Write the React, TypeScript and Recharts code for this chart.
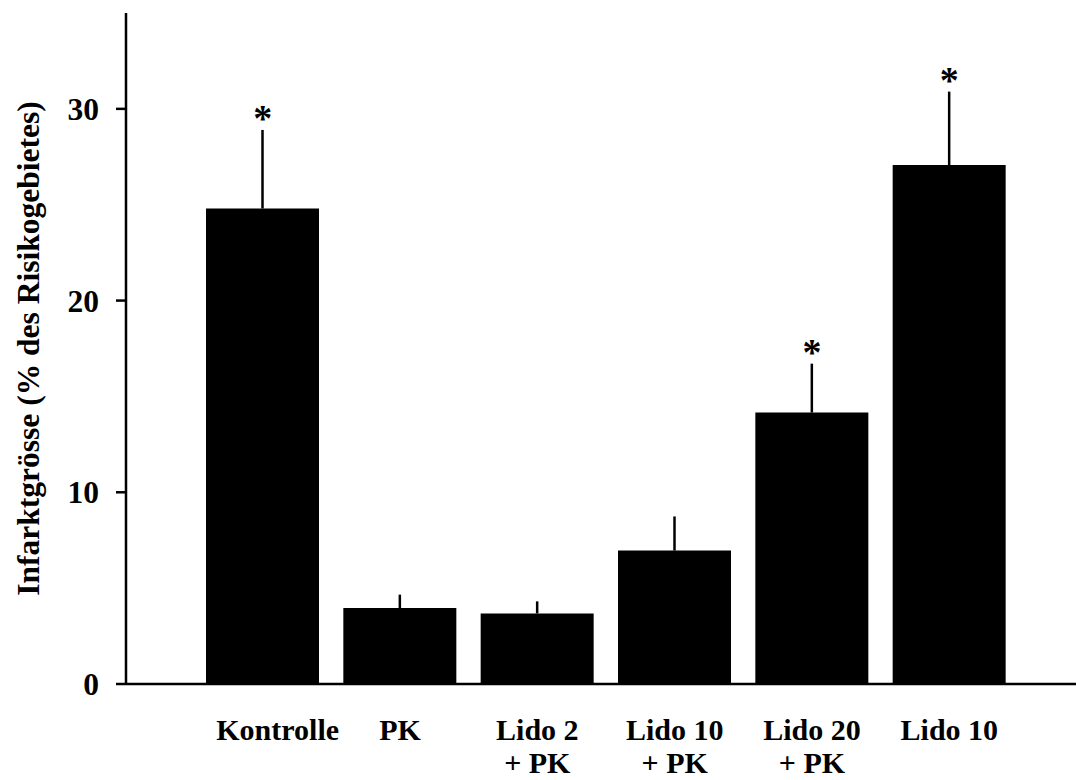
import React from "react";
import { ComposedChart, Bar, Line, XAxis, YAxis, ErrorBar, LabelList } from "recharts";

const labelLine1 = ["Kontrolle", "PK", "Lido 2", "Lido 10", "Lido 20", "Lido 10"];
const labelLine2 = ["", "", "+ PK", "+ PK", "+ PK", ""];
const values = [24.8, 3.96, 3.68, 6.96, 14.16, 27.07];
const errors = [4.1, 0.7, 0.63, 1.78, 2.55, 3.83];
const significant = [true, false, false, false, true, true];
const yTicks = [0, 10, 20, 30];

const data = values.map((v, i) => ({
  idx: i,
  value: v,
  err: [0, errors[i]],
  star: significant[i] ? v + errors[i] : null,
}));

const FONT = '"Liberation Serif", "Times New Roman", Times, serif';
const FS = 31.5;
const XFS = 30;

const XTick = (props: any) => {
  const { x, y, payload } = props;
  const i = payload.value as number;
  const dx = i === 0 ? 15 : 0;
  return (
    <g>
      <text x={x + dx} y={y + 56} textAnchor="middle" fontFamily={FONT} fontWeight="bold" fontSize={XFS} fill="#000">
        {labelLine1[i]}
      </text>
      {labelLine2[i] ? (
        <text x={x + dx} y={y + 89.3} textAnchor="middle" fontFamily={FONT} fontWeight="bold" fontSize={XFS} fill="#000">
          {labelLine2[i]}
        </text>
      ) : null}
    </g>
  );
};

const StarLabel = (props: any) => {
  const { x, y, value } = props;
  if (value === null || value === undefined || y === null || y === undefined) return null;
  return (
    <text x={x} y={y + 1} textAnchor="middle" fontFamily={FONT} fontWeight="bold" fontSize={38} fill="#000">
      *
    </text>
  );
};

const YLabel = (props: any) => {
  const vb = props.viewBox || {};
  const cx = (vb.x || 0) + 28;
  const cy = (vb.y || 0) + (vb.height || 0) / 2;
  return (
    <text
      x={cx}
      y={cy}
      transform={`rotate(-90, ${cx}, ${cy})`}
      textAnchor="middle"
      dominantBaseline="central"
      fontFamily={FONT}
      fontWeight="bold"
      fontSize={FS}
      fill="#000"
    >
      Infarktgrösse (% des Risikogebietes)
    </text>
  );
};

export default function App() {
  return (
    <div style={{ position: "absolute", left: 0, top: 0, width: 1076, height: 780, background: "#fff" }}>
      <ComposedChart
        width={1076}
        height={780}
        data={data}
        margin={{ top: 13, right: 0, left: 0, bottom: 6 }}
      >
        <XAxis
          dataKey="idx"
          type="category"
          height={90}
          padding={{ left: 68, right: 58 }}
          tickLine={false}
          tickSize={0}
          tickMargin={0}
          axisLine={{ stroke: "#000", strokeWidth: 2.5 }}
          tick={<XTick />}
          interval={0}
        />
        <YAxis
          width={126}
          domain={[0, 35]}
          ticks={yTicks}
          allowDataOverflow
          tickSize={10}
          tickMargin={17}
          axisLine={{ stroke: "#000", strokeWidth: 2.5 }}
          tickLine={{ stroke: "#000", strokeWidth: 2.5 }}
          tick={{ fill: "#000", fontFamily: FONT, fontWeight: "bold", fontSize: FS }}
          label={<YLabel />}
        />
        <Bar dataKey="value" fill="#000" barSize={113} isAnimationActive={false}>
          <ErrorBar dataKey="err" width={0} stroke="#000" strokeWidth={2.5} direction="y" />
        </Bar>
        <Line
          dataKey="star"
          stroke="none"
          dot={false}
          activeDot={false}
          isAnimationActive={false}
          connectNulls={false}
        >
          <LabelList dataKey="star" content={<StarLabel />} />
        </Line>
      </ComposedChart>
    </div>
  );
}
